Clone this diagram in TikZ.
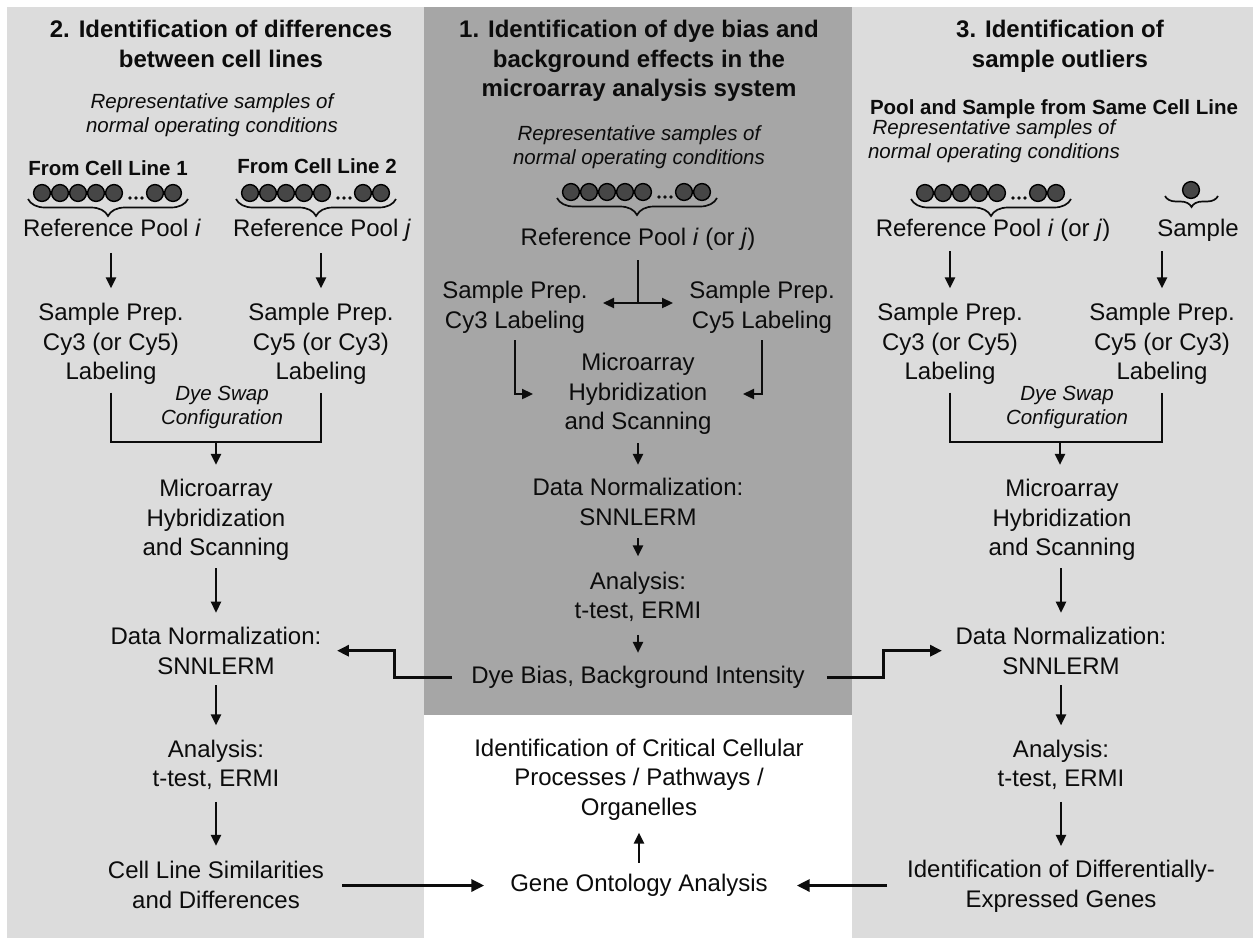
\documentclass[tikz,border=0pt]{standalone}
\usepackage{fontspec}
\setmainfont{Liberation Sans}
\usetikzlibrary{arrows.meta,decorations.pathreplacing,calc}
\definecolor{panelL}{RGB}{220,220,220}
\definecolor{panelM}{RGB}{166,166,166}
\definecolor{ink}{RGB}{12,12,12}
\definecolor{dotfill}{RGB}{70,70,70}
\newcommand\myTitle{\fontsize{24}{29.5}\selectfont\bfseries}
\newcommand\myNorm{\fontsize{24}{29.5}\selectfont}
\newcommand\myItal{\fontsize{20.5}{24}\selectfont\itshape}
\newcommand\myBold{\fontsize{20.5}{24}\selectfont\bfseries}
\tikzset{
  txt/.style={font=\myNorm},
  ttl/.style={font=\myTitle},
  itl/.style={font=\myItal},
  subt/.style={font=\myBold},
  ln/.style={draw=ink, line width=2.3pt, line join=miter},
  arr/.style={ln, -{Triangle[length=11pt,width=10pt]}, shorten <=10pt, shorten >=14pt},
  arrt/.style={draw=ink, line width=3pt, line join=miter, -{Triangle[length=12pt,width=11pt]}},
  arrb/.style={draw=ink, line width=3.5pt, -{Triangle[length=13pt,width=12pt]}},
  dotst/.style={fill=dotfill, draw=black, line width=1.4pt},
  brc/.style={draw=ink, line width=1.7pt, decorate, decoration={brace, mirror, amplitude=#1}},
  dotrow/.pic={
    \foreach \dx in {-66,-48,-30,-12,6,47,65} \draw[dotst] (\dx,0) circle (8.4);
    \foreach \dx in {22,28,34} \fill[ink] (\dx,5) circle (1.8);
    \draw[brc=17pt] (-80,6) -- (80,6);
  },
  onedot/.pic={
    \draw[dotst] (0,0) circle (8.4);
    \draw[brc=11pt] (-26,6) -- (27,6);
  }
}
\begin{document}
\begin{tikzpicture}[x=1pt,y=-1pt,
  every node/.style={inner sep=0pt, outer sep=0pt, align=center, text=ink}]
\useasboundingbox (0,0) rectangle (1253,938);
\fill[white] (0,0) rectangle (1253,938);
% panels
\fill[panelL] (7,7) rectangle (424,938);
\fill[panelM] (424,7) rectangle (852,715);
\fill[panelL] (852,7) rectangle (1253,938);

% ---------- left panel ----------
\node[ttl] (t2) at (221,43.8) {2. Identification of differences\\between cell lines};
\node[itl] (rep2) at (212,115.2) {Representative samples of\\normal operating conditions};
\node[subt] (fromA) at (108,168) {From Cell Line 1};
\node[subt] (fromB) at (317,166) {From Cell Line 2};
\pic at (108,193) {dotrow};
\pic at (316,193) {dotrow};
\node[txt] (refA) at (112,228) {Reference Pool \textit{i}};
\node[txt] (refB) at (322,230.5) {Reference Pool \textit{j}};
\node[txt] (prepA) at (111,344) {Sample Prep.\\Cy3 (or Cy5)\\Labeling};
\node[txt] (prepB) at (321,344) {Sample Prep.\\Cy5 (or Cy3)\\Labeling};
\node[itl] (swapL) at (222,407.2) {Dye Swap\\Configuration};
\node[txt] (microL) at (216,520) {Microarray\\Hybridization\\and Scanning};
\node[txt] (normL) at (216,650.7) {Data Normalization:\\SNNLERM};
\node[txt] (anaL) at (216,764.8) {Analysis:\\t-test, ERMI};
\node[txt] (simL) at (216,884.8) {Cell Line Similarities\\and Differences};
\coordinate (jL) at (216,442);

\draw[arr, shorten <=16pt, shorten >=15pt] (prepA.north |- refA.south) -- (prepA.north);
\draw[arr, shorten <=11.5pt, shorten >=15pt] (prepB.north |- refB.south) -- (prepB.north);
\draw[ln, shorten <=8pt, shorten >=8pt] (prepA.south) |- (jL) -| (prepB.south);
\draw[arr, shorten <=0pt, shorten >=14.4pt] (jL) -- (microL.north);
\draw[arr, shorten <=7.4pt, shorten >=14.4pt] (microL) -- (normL);
\draw[arr, shorten <=11pt, shorten >=14.4pt] (normL) -- (anaL);
\draw[arr, shorten <=12pt, shorten >=15.4pt] (anaL) -- (simL);

% ---------- middle panel ----------
\node[ttl] (t1) at (639,61) {1. Identification of dye bias and\\background effects in the\\microarray analysis system};
\node[itl] (rep1) at (639,147.2) {Representative samples of\\normal operating conditions};
\pic at (637,192) {dotrow};
\node[txt] (ref1) at (638,239.5) {Reference Pool \textit{i} (or \textit{j})};
\node[txt] (prep1L) at (515,307.3) {Sample Prep.\\Cy3 Labeling};
\node[txt] (prep1R) at (762,307.3) {Sample Prep.\\Cy5 Labeling};
\node[txt] (micro1) at (638,394) {Microarray\\Hybridization\\and Scanning};
\node[txt] (norm1) at (638,501.8) {Data Normalization:\\SNNLERM};
\node[txt] (ana1) at (638,596.8) {Analysis:\\t-test, ERMI};
\node[txt] (dye1) at (638,677.5) {Dye Bias, Background Intensity};
\coordinate (split) at (638,303);
\coordinate (bendL) at (394,660);
\coordinate (bendR) at (883,660);

\draw[ln, shorten <=9.4pt] (ref1.south) -- (split);
\draw[arr, shorten <=0pt, shorten >=15.3pt] (split) -- (split -| prep1L.east);
\draw[arr, shorten <=0pt, shorten >=16.3pt] (split) -- (split -| prep1R.west);
\draw[arr, shorten <=7pt, shorten >=31.6pt] (prep1L.south) |- (micro1.west);
\draw[arr, shorten <=7pt, shorten >=31.6pt] (prep1R.south) |- (micro1.east);
\draw[arr, shorten <=8.4pt, shorten >=13.4pt] (micro1) -- (norm1);
\draw[arr, shorten <=13pt, shorten >=15.4pt] (norm1) -- (ana1);
\draw[arr, shorten <=13pt, shorten >=13.4pt] (ana1) -- (dye1);
\draw[arrt, shorten <=19pt, shorten >=15.6pt] (dye1.west) -- (dye1.west -| bendL) |- (normL.east);

% ---------- lower middle ----------
\node[txt] (crit) at (639,779.5) {Identification of Critical Cellular\\Processes / Pathways /\\Organelles};
\node[txt] (gene) at (639,885.5) {Gene Ontology Analysis};
\draw[arr, shorten <=11.4pt, shorten >=12.4pt] (gene) -- (crit);

% ---------- right panel ----------
\node[ttl] (t3) at (1060,46.3) {3. Identification of\\sample outliers};
\node[subt] (poolR) at (1054,109) {Pool and Sample from Same Cell Line};
\node[itl] (rep3) at (994,141.2) {Representative samples of\\normal operating conditions};
\pic at (991,193) {dotrow};
\pic at (1191,190) {onedot};
\node[txt] (refR) at (993,230.5) {Reference Pool \textit{i} (or \textit{j})};
\node[txt] (sampleR) at (1198,230.5) {Sample};
\node[txt] (prepRA) at (950,344) {Sample Prep.\\Cy3 (or Cy5)\\Labeling};
\node[txt] (prepRB) at (1162,344) {Sample Prep.\\Cy5 (or Cy3)\\Labeling};
\node[itl] (swapR) at (1067,407.2) {Dye Swap\\Configuration};
\node[txt] (microR) at (1062,520) {Microarray\\Hybridization\\and Scanning};
\node[txt] (normR) at (1061,650.7) {Data Normalization:\\SNNLERM};
\node[txt] (anaR) at (1061,764.8) {Analysis:\\t-test, ERMI};
\node[txt] (idR) at (1061,886.3) {Identification of Differentially-\\Expressed Genes};
\coordinate (jR) at (1060,442);

\draw[arr, shorten <=9.5pt, shorten >=15pt] (prepRA.north |- refR.south) -- (prepRA.north);
\draw[arr, shorten <=9.5pt, shorten >=15pt] (prepRB.north |- sampleR.south) -- (prepRB.north);
\draw[ln, shorten <=8pt, shorten >=8pt] (prepRA.south) |- (jR) -| (prepRB.south);
\draw[arr, shorten <=0pt, shorten >=14.4pt] (jR) -- (jR |- microR.north);
\draw[arr, shorten <=7.4pt, shorten >=14.4pt] (microR.south -| normR) -- (normR.north);
\draw[arr, shorten <=11pt, shorten >=14.4pt] (normR) -- (anaR);
\draw[arr, shorten <=12pt, shorten >=14.4pt] (anaR) -- (idR);
\draw[arrt, shorten <=22pt, shorten >=13.6pt] (dye1.east) -- (dye1.east -| bendR) |- (normR.west);

% ---------- bottom arrows ----------
\draw[arrb, shorten <=18pt, shorten >=26pt] (simL.east |- gene.west) -- (gene.west);
\draw[arrb, shorten <=20pt, shorten >=29pt] (gene.east -| idR.west) -- (gene.east);
\end{tikzpicture}
\end{document}
